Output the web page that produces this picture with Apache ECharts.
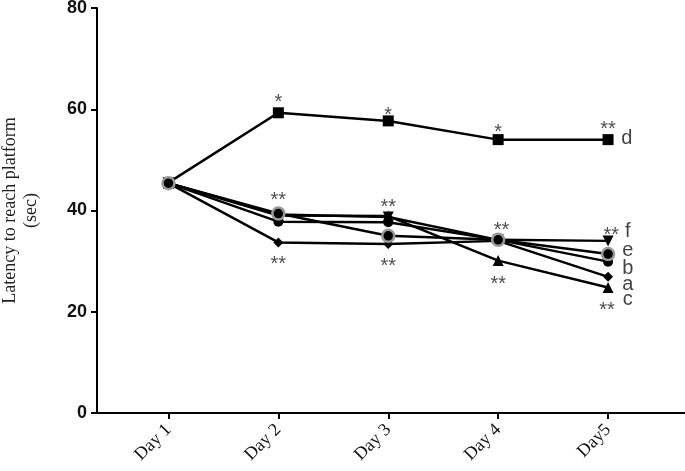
<!DOCTYPE html>
<html><head><meta charset="utf-8">
<script src="https://cdn.jsdelivr.net/npm/echarts@6/dist/echarts.min.js"></script>
<style>html,body{margin:0;padding:0;background:#fff}#c{width:685px;height:471px}</style>
</head><body><div id="c"></div>
<script>
const days = [1, 2, 3, 4, 5];
const dayLabels = ['Day 1', 'Day 2', 'Day 3', 'Day 4', 'Day5'];
const yTicks = [0, 20, 40, 60, 80];
const seriesD = [45.5, 59.3, 57.7, 54.0, 54.0];
const seriesF = [45.4, 39.2, 38.7, 34.2, 34.0];
const seriesB = [45.4, 37.8, 37.7, 34.2, 29.9];
const seriesA = [45.4, 33.7, 33.4, 34.0, 26.9];
const seriesC = [45.4, 39.0, 38.9, 30.1, 24.8];
const seriesE = [45.4, 39.4, 35.0, 34.2, 31.4];
// significance marks: [day, value, text]
const starMarks = [
  [2, 62.4, '*'], [3, 59.7, '*'], [4, 56.3, '*'], [5, 56.9, '**'],
  [2, 42.9, '**'], [2, 30.4, '**'],
  [3, 41.5, '**'], [3, 29.9, '**'],
  [4.03, 37.1, '**'], [4.0, 26.3, '**'],
  [5.03, 36.0, '**'], [4.99, 21.3, '**']
];
// group letters: [day, value, text]
const groupLetters = [
  [5.17, 54.3, 'd'], [5.18, 35.8, 'f'], [5.18, 32.2, 'e'],
  [5.18, 28.6, 'b'], [5.18, 25.3, 'a'], [5.18, 22.5, 'c']
];

function pts(vals){ return days.map((d,i)=>[d, vals[i]]); }
function line(name, vals, symbol, size, extra){
  return Object.assign({
    name, type:'line', data: pts(vals), symbol, symbolSize:size,
    lineStyle:{color:'#000', width:2.5},
    itemStyle:{color:'#000'},
    showSymbol:true, animation:false, z:2
  }, extra||{});
}
const chart = echarts.init(document.getElementById('c'), null, {renderer:'canvas'});
chart.setOption({
  animation:false,
  grid:{left:97, right:0, top:8, bottom:58, containLabel:false, outerBoundsMode:'none'},
  xAxis:{
    type:'value', min:0.35, max:5.7,
    splitLine:{show:false},
    axisLine:{show:true, onZero:false, lineStyle:{color:'#000', width:2}},
    axisTick:{show:true, customValues:days, length:6, lineStyle:{color:'#000', width:2}},
    axisLabel:{customValues:days, rotate:45, margin:14, color:'#111',
      fontFamily:'Liberation Serif', fontSize:18,
      formatter: v => dayLabels[days.indexOf(Math.round(v))] || ''}
  },
  yAxis:{
    type:'value', min:0, max:80, interval:20,
    splitLine:{show:false},
    axisLine:{show:true, lineStyle:{color:'#000', width:2}},
    axisTick:{show:true, length:6, lineStyle:{color:'#000', width:2}},
    axisLabel:{margin:10, color:'#111', fontFamily:'Liberation Sans', fontWeight:'bold', fontSize:18,
      formatter: v => yTicks.includes(v) ? String(v) : ''},
    name:'Latency to reach platform\n(sec)', nameLocation:'middle', nameGap:55,
    nameTextStyle:{fontFamily:'Liberation Serif', fontSize:18, color:'#222', lineHeight:21}
  },
  series:[
    line('d', seriesD, 'rect', 11),
    line('f', seriesF, 'triangle', 11, {symbolRotate:180}),
    line('b', seriesB, 'circle', 10),
    line('a', seriesA, 'diamond', 10),
    line('c', seriesC, 'triangle', 11),
    line('e', seriesE, 'circle', 12, {itemStyle:{color:'#000', borderColor:'#999', borderWidth:2.5}, z:3}),
    {type:'scatter', data:starMarks, symbolSize:0, z:5, silent:true,
      label:{show:true, position:'inside', offset:[0,5], formatter:p=>p.data[2],
        fontFamily:'Liberation Sans', fontSize:20, color:'#222'}},
    {type:'scatter', data:groupLetters, symbolSize:0, z:5, silent:true,
      label:{show:true, position:'inside', formatter:p=>p.data[2],
        fontFamily:'Liberation Sans', fontSize:20, color:'#111'}}
  ]
});
</script></body></html>
